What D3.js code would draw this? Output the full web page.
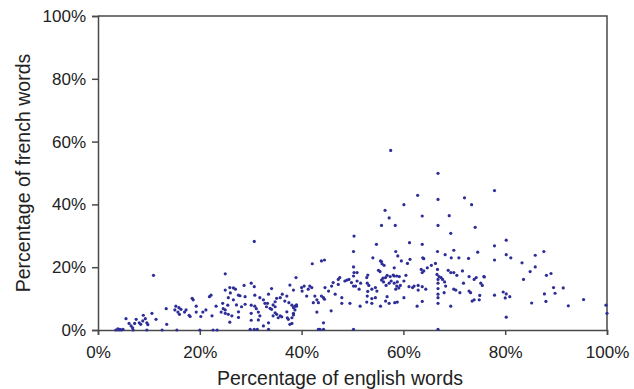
<!DOCTYPE html>
<html>
<head>
<meta charset="utf-8">
<script src="https://cdn.jsdelivr.net/npm/d3@7"></script>
<style>
  body { margin: 0; background: #fff; }
  svg { display: block; font-family: "Liberation Sans", Arial, sans-serif; }
</style>
</head>
<body>
<svg id="chart" width="634" height="389"></svg>
<script>
// values, in percent
const englishPct = [
  57.5, 66.8, 77.9, 62.8, 66.8, 72.0, 73.4, 60.1, 56.4, 57.2, 63.7, 69.0, 55.7, 58.4, 66.8, 74.1, 30.7, 10.9,
  69.3, 54.7, 61.2, 63.7, 58.5, 58.9, 66.7, 69.9, 74.6, 50.3, 54.0, 55.5, 55.8, 56.2, 59.6, 60.8, 61.3, 63.8,
  64.0, 68.2, 69.4, 70.9, 72.8, 58.2, 55.1, 50.3, 53.0, 52.8, 56.8, 56.5, 57.4, 58.2, 58.7, 60.5, 63.5, 63.7,
  64.0, 64.7, 65.5, 66.3, 66.7, 66.6, 67.0, 67.4, 67.7, 68.8, 69.3, 69.9, 70.5, 71.6, 72.9, 73.9, 74.3, 75.8,
  75.2, 75.5, 50.9, 51.6, 50.6, 51.3, 52.9, 53.2, 53.0, 53.8, 54.5, 54.8, 55.7, 56.1, 56.6, 57.2, 57.6, 58.2,
  58.8, 58.7, 58.5, 59.1, 59.4, 60.1, 61.1, 61.8, 62.1, 62.9, 62.9, 63.7, 64.4, 60.1, 56.8, 56.5, 55.5, 53.8,
  54.5, 52.9, 51.5, 52.8, 53.8, 57.2, 58.8, 62.7, 63.7, 66.8, 66.8, 66.8, 66.8, 66.8, 66.8, 69.3, 68.1, 68.3,
  68.0, 69.9, 70.3, 71.1, 71.8, 72.9, 73.2, 73.5, 73.9, 75.0, 74.9, 66.8, 55.7, 55.4, 56.0, 58.0, 59.2, 50.9,
  58.3,
  80.2, 77.9, 80.2, 81.1, 77.9, 87.6, 85.9, 83.3, 85.9, 84.9, 75.9, 83.6, 89.0, 88.1, 89.5, 89.8, 91.4, 87.7,
  88.0, 77.9, 79.6, 80.2, 80.0, 80.9, 85.2, 92.4, 95.4, 99.8, 100, 80.2,
  50.2, 50.2, 50.2, 42.1, 43.9, 44.5, 38.9, 25.0, 30.1, 30.7, 28.7, 25.9, 26.6, 27.6, 27.9, 28.9, 25.6, 31.8,
  33.5, 34.1, 25.5, 25.0, 25.6, 28.2, 28.9, 30.1, 30.8, 31.1, 26.3, 27.6, 30.1, 31.5, 31.8, 25.9, 30.1, 31.5,
  32.5, 33.3, 34.1, 34.8, 34.8, 34.4, 35.1, 35.4, 35.8, 33.5, 37.4, 37.7, 35.8, 36.2, 37.1, 36.7, 37.5, 38.1,
  38.7, 38.4, 39.0, 38.4, 38.1, 40.0, 40.5, 40.1, 41.0, 41.3, 41.6, 42.0, 42.3, 42.6, 43.0, 43.3, 43.9, 44.3,
  44.5, 44.6, 45.3, 43.0, 44.3, 45.8, 45.9, 46.2, 47.2, 47.5, 48.5, 48.9, 49.3, 49.8, 50.2, 47.9, 49.5, 47.2,
  46.6, 47.9, 29.9, 30.7, 31.3, 33.5, 43.3, 44.3, 50.2, 43.6,
  22.2, 21.9, 18.5, 18.7, 25.0, 13.4, 15.3, 15.9, 15.1, 15.7, 16.3, 16.0, 17.0, 17.3, 17.9, 18.1, 19.3, 19.3,
  20.2, 20.6, 21.2, 22.4, 23.2, 24.2, 24.6, 24.5, 25.0, 10.6, 8.9, 9.3, 8.8, 9.6, 8.1, 8.4, 9.8, 7.5,
  7.2, 5.5, 6.1, 6.5, 6.8, 11.4, 13.5, 3.9, 4.3, 4.9, 3.5, 4.1, 4.6, 6.9, 9.6, 12.6, 15.5, 20.0,
  22.6, 23.4,
  37.2, 38.4, 38.7, 39.0, 37.1, 36.1, 38.1, 26.0, 27.0, 26.6, 27.2, 27.6, 30.8, 32.5, 32.8, 33.1, 33.8, 34.4,
  34.8, 35.1, 37.7, 38.4
];
const frenchPct = [
  57.2, 49.9, 44.4, 42.9, 41.6, 42.1, 39.9, 39.9, 38.1, 35.7, 36.3, 36.4, 33.3, 33.3, 33.3, 32.7, 28.2, 17.4,
  30.8, 27.3, 27.8, 27.3, 25.0, 23.6, 25.0, 25.4, 24.8, 29.9, 23.0, 22.0, 21.1, 20.6, 22.0, 21.2, 22.5, 23.0,
  22.7, 24.0, 23.0, 23.0, 22.8, 19.8, 19.0, 18.3, 17.5, 16.7, 17.4, 16.7, 17.0, 17.2, 17.2, 17.4, 19.3, 18.3,
  18.8, 19.8, 20.6, 21.2, 19.3, 17.7, 17.0, 16.7, 16.1, 19.0, 18.3, 18.3, 17.4, 18.8, 17.0, 16.1, 16.7, 17.0,
  14.9, 14.2, 15.6, 14.9, 14.0, 13.0, 14.9, 14.2, 12.3, 13.0, 13.5, 12.4, 15.9, 15.3, 14.2, 14.9, 15.6, 14.9,
  15.3, 14.0, 13.0, 13.4, 14.2, 15.6, 13.8, 13.5, 14.0, 14.2, 12.7, 13.8, 13.0, 10.3, 10.6, 9.2, 7.6, 10.0,
  10.3, 10.8, 7.6, 8.9, 8.5, 8.5, 8.9, 7.6, 9.1, 16.1, 14.9, 13.2, 11.4, 10.3, 8.5, 7.6, 15.3, 14.0,
  11.9, 13.0, 12.7, 11.9, 14.9, 12.4, 11.9, 9.2, 9.6, 11.0, 9.6, 0.2, 21.8, 18.6, 16.5, 17.5, 17.0, 18.3,
  8.7,
  28.6, 26.8, 24.0, 23.0, 22.3, 25.0, 23.8, 21.4, 20.1, 18.6, 16.9, 16.1, 18.0, 17.4, 13.5, 11.7, 13.4, 11.5,
  9.1, 11.1, 12.1, 11.5, 10.2, 10.6, 8.6, 7.7, 9.7, 7.9, 5.3, 4.1,
  25.0, 20.1, 17.2, 21.1, 22.0, 22.3, 16.7, 17.9, 14.9, 13.8, 14.2, 13.5, 13.4, 11.1, 10.9, 10.6, 10.3, 10.3,
  11.4, 13.2, 7.9, 6.4, 5.0, 7.4, 8.2, 7.9, 7.6, 6.8, 4.5, 4.0, 5.3, 5.7, 4.5, 2.5, 3.1, 3.2,
  1.3, 8.5, 6.6, 7.4, 5.5, 4.5, 5.0, 3.9, 4.5, 2.3, 3.4, 1.8, 10.3, 11.4, 10.8, 9.2, 8.7, 7.9,
  7.6, 7.1, 7.6, 5.3, 3.9, 13.5, 14.0, 12.4, 10.8, 13.0, 14.0, 13.5, 8.7, 10.8, 9.6, 8.7, 10.8, 10.3,
  9.8, 13.5, 12.4, 5.7, 2.3, 6.1, 14.0, 15.1, 16.1, 16.7, 15.6, 15.9, 16.1, 15.1, 14.0, 10.3, 8.5, 14.5,
  11.4, 8.5, 0.2, 0.2, 0.2, 0.2, 0.2, 0.2, 0.2, 0.2,
  11.1, 10.6, 10.1, 9.6, 12.7, 6.8, 7.6, 7.1, 6.4, 5.7, 6.6, 5.0, 5.7, 6.4, 4.7, 4.3, 7.6, 5.7,
  4.3, 5.7, 6.4, 4.5, 7.6, 5.7, 6.8, 8.5, 5.3, 5.3, 4.7, 3.6, 2.9, 2.3, 2.3, 1.8, 1.7, 3.4,
  2.1, 3.6, 2.1, 1.3, 0.7, 3.4, 1.8, 0.4, 0.2, 0.2, 0, 0, 0, 0, 0, 0, 0, 0,
  0, 0,
  3.9, 4.8, 6.4, 8.0, 5.8, 4.2, 2.1, 11.8, 13.0, 9.6, 8.0, 5.8, 11.1, 9.6, 8.5, 7.4, 6.9, 8.0,
  9.0, 10.1, 14.3, 12.7
];
const tickValues = [0, 20, 40, 60, 80, 100];

let svg = d3.select("#chart");
let plotLeft = 98, plotRight = 607, plotTop = 16, plotBottom = 330;

let x = d3.scaleLinear().domain([0, 100]).range([plotLeft, plotRight]);
let y = d3.scaleLinear().domain([0, 100]).range([plotBottom, plotTop]);

let axisColor = "#4a4a4a";

// frame (top and right side)
svg.append("path")
  .attr("d", `M${plotLeft},${plotTop}H${plotRight}V${plotBottom}`)
  .attr("fill", "none")
  .attr("stroke", axisColor)
  .attr("stroke-width", 1.5);

let xAxis = svg.append("g")
  .attr("transform", `translate(0,${plotBottom})`)
  .call(d3.axisBottom(x).tickValues(tickValues).tickSize(5).tickPadding(11).tickFormat(d => d + "%"));

let yAxis = svg.append("g")
  .attr("transform", `translate(${plotLeft},0)`)
  .call(d3.axisLeft(y).tickValues(tickValues).tickSize(6).tickPadding(6).tickFormat(d => d + "%"));

for (const g of [xAxis, yAxis]) {
  g.select(".domain").attr("stroke", axisColor).attr("stroke-width", 1.5);
  g.selectAll(".tick line").attr("stroke", axisColor).attr("stroke-width", 1.5);
  g.selectAll(".tick text")
    .attr("fill", "#222")
    .style("font-size", "17px")
    .style("font-family", "'Liberation Sans', Arial, sans-serif");
}

// points
svg.append("g")
  .selectAll("circle")
  .data(englishPct)
  .enter()
  .append("circle")
  .attr("cx", d => x(d))
  .attr("cy", (d, i) => y(frenchPct[i]))
  .attr("r", 1.6)
  .attr("fill", "#2d2d98");

// axis titles
svg.append("text")
  .attr("x", 340)
  .attr("y", 385)
  .attr("text-anchor", "middle")
  .attr("fill", "#222")
  .style("font-size", "19.5px")
  .text("Percentage of english words");

svg.append("text")
  .attr("transform", `translate(30,${(plotTop + plotBottom) / 2}) rotate(-90)`)
  .attr("text-anchor", "middle")
  .attr("fill", "#222")
  .style("font-size", "19.5px")
  .text("Percentage of french words");
</script>
</body>
</html>
